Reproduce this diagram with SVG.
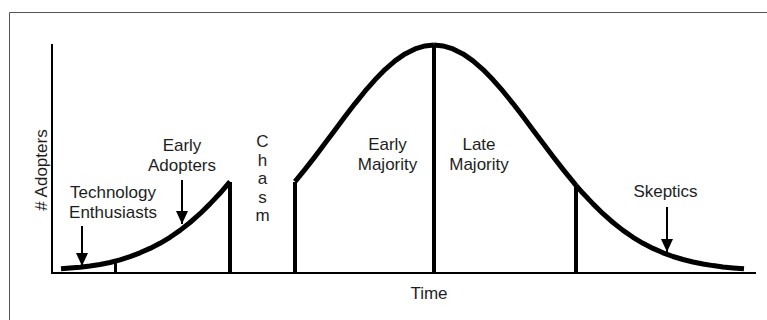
<svg xmlns="http://www.w3.org/2000/svg" width="767" height="320" viewBox="0 0 767 320">
  <style>
    .lbl { font-family: "Liberation Sans", Arial, Helvetica, sans-serif; font-size: 17px; fill: #1e1e1e; text-anchor: middle; }
    .curve { fill: none; stroke: #000; stroke-width: 5; stroke-linejoin: round; }
    .div { stroke: #000; stroke-width: 4; }
    .axis { stroke: #000; stroke-width: 2; fill: none; }
    .arrow { stroke: #000; stroke-width: 2; marker-end: url(#head); }
  </style>
  <defs>
    <marker id="head" markerUnits="userSpaceOnUse" markerWidth="13" markerHeight="12" refX="13" refY="6" orient="auto">
      <path d="M0,0 L13,6 L0,12 Z" fill="#000"/>
    </marker>
  </defs>
  <rect width="767" height="320" fill="#fff"/>
  <path d="M9.5,320 V12.5 H767" fill="none" stroke="#555" stroke-width="1"/>

  <g id="axes">
    <path class="axis" d="M52,44 V273 H756"/>
    <text class="lbl" transform="translate(46.5,170) rotate(-90)">#  Adopters</text>
    <text class="lbl" x="429" y="299">Time</text>
  </g>

  <g id="tech-enthusiasts">
    <line x1="115.5" y1="262" x2="115.5" y2="273" stroke="#000" stroke-width="3"/>
    <text class="lbl" x="113" y="198">Technology</text>
    <text class="lbl" x="113" y="218">Enthusiasts</text>
  </g>

  <g id="early-adopters">
    <polyline class="curve" points="61,268.8 70,268 80,267.2 90,266 100,264.5 110,262.5 120,259.8 130,256.6 140,252.8 150,248.4 160,243.3 170,237.3 180,230.4 190,222.5 200,213.7 210,203.9 220,193.3 230,181.7"/>
    <line class="div" x1="230" y1="182" x2="230" y2="273"/>
    <text class="lbl" x="182" y="151">Early</text>
    <text class="lbl" x="182" y="171">Adopters</text>
  </g>

  <g id="chasm">
    <text class="lbl" x="262.5" y="147">C</text>
    <text class="lbl" x="262.5" y="165.5">h</text>
    <text class="lbl" x="262.5" y="184">a</text>
    <text class="lbl" x="262.5" y="202.5">s</text>
    <text class="lbl" x="262.5" y="221">m</text>
  </g>

  <g id="early-majority">
    <line class="div" x1="295" y1="182" x2="295" y2="273"/>
    <polyline class="curve" points="295,181.7 305,169.4 315,156.6 325,143.3 335,129.9 345,116.6 355,103.6 365,91.2 375,79.8 385,69.6 395,60.9 405,53.9 415,48.9 425,45.9 434,45"/>
    <text class="lbl" x="387.5" y="150">Early</text>
    <text class="lbl" x="387.5" y="170">Majority</text>
  </g>

  <g id="late-majority">
    <line class="div" x1="434" y1="45" x2="434" y2="273"/>
    <polyline class="curve" points="434,45 443,45.9 453,48.9 463,53.9 473,60.9 483,69.6 493,79.8 503,91.2 513,103.6 523,116.6 533,129.9 543,143.3 553,156.6 563,169.4 573,181.7 576,185.3"/>
    <text class="lbl" x="479" y="150">Late</text>
    <text class="lbl" x="479" y="170">Majority</text>
  </g>

  <g id="skeptics">
    <line class="div" x1="576" y1="185" x2="576" y2="273"/>
    <polyline class="curve" points="576,185.3 583,193.3 593,203.9 603,213.7 613,222.5 623,230.4 633,237.3 643,243.3 653,248.4 663,252.8 673,256.5 683,259.5 693,262 703,264 713,265.6 723,266.9 733,267.9 744,268.8"/>
    <text class="lbl" x="665.5" y="197">Skeptics</text>
  </g>

  <g id="connectors">
    <line class="arrow" x1="82" y1="226" x2="82" y2="266"/>
    <line class="arrow" x1="182" y1="180" x2="182" y2="224"/>
    <line class="arrow" x1="667" y1="207" x2="667" y2="252"/>
  </g>
</svg>
